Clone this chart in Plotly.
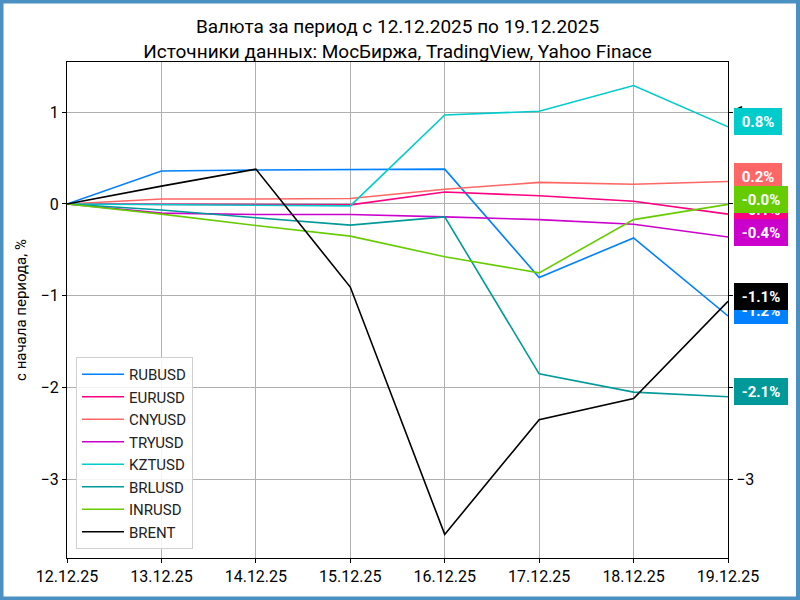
import plotly.graph_objects as go

dates = ["12.12.25", "13.12.25", "14.12.25", "15.12.25", "16.12.25", "17.12.25", "18.12.25", "19.12.25"]

rubusd = [0.0, 0.36, 0.37, 0.375, 0.38, -0.80, -0.37, -1.22]
eurusd = [0.0, -0.005, -0.01, -0.01, 0.13, 0.09, 0.03, -0.11]
cnyusd = [0.0, 0.055, 0.055, 0.06, 0.16, 0.235, 0.215, 0.245]
tryusd = [0.0, -0.10, -0.115, -0.115, -0.14, -0.17, -0.22, -0.36]
kztusd = [0.0, -0.005, -0.01, -0.02, 0.97, 1.01, 1.29, 0.84]
brlusd = [0.0, -0.065, -0.15, -0.23, -0.14, -1.85, -2.05, -2.10]
inrusd = [0.0, -0.11, -0.235, -0.35, -0.575, -0.75, -0.17, -0.004]
brent = [0.0, 0.195, 0.38, -0.905, -3.60, -2.35, -2.12, -1.06]

names = ["RUBUSD", "EURUSD", "CNYUSD", "TRYUSD", "KZTUSD", "BRLUSD", "INRUSD", "BRENT"]
series = [rubusd, eurusd, cnyusd, tryusd, kztusd, brlusd, inrusd, brent]
colors = ["#0080ff", "#ff0080", "#ff6666", "#cc00cc", "#00cccc", "#009999", "#66cc00", "#000000"]

y_ticks = [-3, -2, -1, 0, 1]
y_range = [-3.857, 1.547]

title = "Валюта за период с 12.12.2025 по 19.12.2025<br>Источники данных: МосБиржа, TradingView, Yahoo Finace"
y_title = "с начала периода, %"

fig = go.Figure()
for name, vals, col in zip(names, series, colors):
    fig.add_trace(go.Scatter(x=dates, y=vals, mode="lines", name=name,
                             line=dict(color=col, width=1.6)))

# invisible trace to carry the right-hand axis
fig.add_trace(go.Scatter(x=dates, y=brent, yaxis="y2", mode="lines",
                         line=dict(width=0), opacity=0, showlegend=False, hoverinfo="skip"))

annotations = []
for name, vals, col in zip(names, series, colors):
    v = vals[-1]
    annotations.append(dict(
        x=1, xref="paper", y=v, yref="y", xanchor="left", yanchor="middle",
        xshift=6, yshift=5, text="&nbsp;<b>%.1f%%</b>&nbsp;" % v, showarrow=False,
        font=dict(family="Roboto", size=15, color="white"),
        bgcolor=col, borderpad=4, height=19, borderwidth=0,
    ))

# figure border
L, R, T, B = 67, 72, 62, 42
W, H = 800, 600
pw, ph = W - L - R, H - T - B
shapes = [dict(type="rect", xref="paper", yref="paper",
               x0=(-L + 1.5) / pw, x1=(W - L - 2) / pw,
               y0=(-B + 1.5) / ph, y1=(H - B - 1.5) / ph,
               line=dict(color="#4a90c0", width=4), fillcolor="rgba(0,0,0,0)", layer="below")]

fig.update_layout(
    width=W, height=H,
    margin=dict(l=L, r=R, t=T, b=B),
    paper_bgcolor="white", plot_bgcolor="white",
    font=dict(family="Roboto", size=14, color="#000000"),
    title=dict(text=title, x=0.5, xref="paper", xanchor="center",
               y=1 - 33 / H, yanchor="middle", font=dict(size=19)),
    showlegend=True,
    legend=dict(x=0.0136, y=0.018, xanchor="left", yanchor="bottom",
                bgcolor="rgba(255,255,255,0.85)", bordercolor="#d0d0d0", borderwidth=1,
                font=dict(size=15, color="#222222"), itemwidth=42),
    xaxis=dict(type="category", range=[0, len(dates) - 1], showgrid=True, gridcolor="#b0b0b0",
               gridwidth=1, showline=True, linecolor="black", linewidth=1.2, mirror=True,
               ticks="outside", ticklen=4, tickcolor="black", tickfont=dict(size=16), zeroline=False),
    yaxis=dict(range=y_range, tickvals=y_ticks, showgrid=True, gridcolor="#b0b0b0", gridwidth=1,
               showline=True, linecolor="black", linewidth=1.2, mirror=True,
               ticks="outside", ticklen=4, tickcolor="black", zeroline=False,
               title=dict(text=y_title, font=dict(size=15), standoff=10), tickfont=dict(size=16)),
    yaxis2=dict(range=y_range, tickvals=y_ticks, overlaying="y", side="right", showgrid=False,
                ticks="outside", ticklen=4, tickcolor="black", zeroline=False, showline=False,
                tickfont=dict(size=16)),
    annotations=annotations,
    shapes=shapes,
)

fig.write_html("out.html", config={"displayModeBar": False},
               post_script="document.body.style.margin='0';document.body.style.padding='0';")
